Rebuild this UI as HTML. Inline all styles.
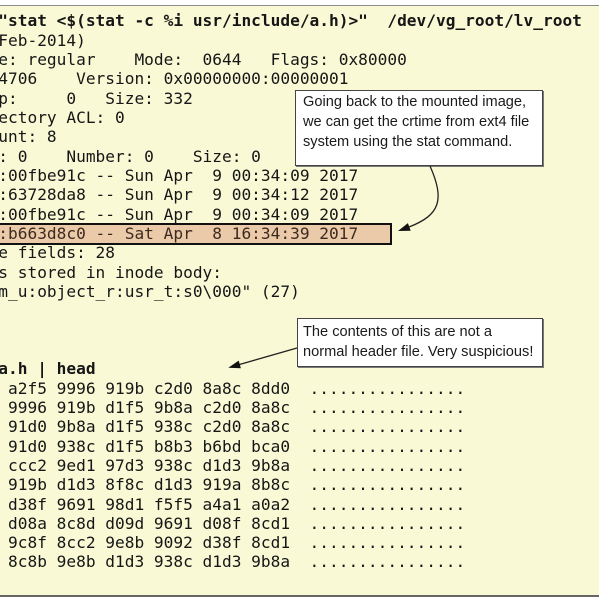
<!DOCTYPE html>
<html>
<head>
<meta charset="utf-8">
<style>
  html, body { margin:0; padding:0; }
  body { width:600px; height:600px; position:relative; overflow:hidden; background:#ffffff; }
  #panel { position:absolute; left:0; top:5px; width:599px; height:589px;
           background:#f9f9d6; border-top:1px solid #8c8c8c; border-bottom:2px solid #666666; }
  #hl { position:absolute; left:-5px; top:222.5px; width:396.7px; height:22px; box-sizing:border-box;
        border:2px solid #111111; background:#eacaa8; }
  pre { position:absolute; left:-1.73px; top:11.3px; margin:0; padding:0;
        font-family:"DejaVu Sans Mono","Liberation Mono",monospace; font-size:16.16px;
        line-height:19.33px; color:#161616; white-space:pre; }
  pre b { font-weight:bold; }
  .hlt { color:#3d2a1f; }
  .call { position:absolute; box-sizing:border-box; background:#ffffff; border:1px solid #444444;
          box-shadow:1px 1px 0 #7a7a7a; font-family:"Liberation Sans",Arial,sans-serif;
          font-size:14.6px; line-height:20px; color:#1a1a1a; white-space:nowrap; }
  svg { position:absolute; left:0; top:0; }
</style>
</head>
<body>
<div id="panel"></div>
<div id="hl"></div>
<pre><b>"stat &lt;$(stat -c %i usr/include/a.h)&gt;"  /dev/vg_root/lv_root</b>
Feb-2014)
e: regular    Mode:  0644   Flags: 0x80000
4706    Version: 0x00000000:00000001
p:     0   Size: 332
ectory ACL: 0
unt: 8
: 0    Number: 0    Size: 0
:00fbe91c -- Sun Apr  9 00:34:09 2017
:63728da8 -- Sun Apr  9 00:34:12 2017
:00fbe91c -- Sun Apr  9 00:34:09 2017
<span class="hlt">:b663d8c0 -- Sat Apr  8 16:34:39 2017</span>
e fields: 28
s stored in inode body:
m_u:object_r:usr_t:s0\000" (27)



<b>a.h | head</b>
 a2f5 9996 919b c2d0 8a8c 8dd0  ................
 9996 919b d1f5 9b8a c2d0 8a8c  ................
 91d0 9b8a d1f5 938c c2d0 8a8c  ................
 91d0 938c d1f5 b8b3 b6bd bca0  ................
 ccc2 9ed1 97d3 938c d1d3 9b8a  ................
 919b d1d3 8f8c d1d3 919a 8b8c  ................
 d38f 9691 98d1 f5f5 a4a1 a0a2  ................
 d08a 8c8d d09d 9691 d08f 8cd1  ................
 9c8f 8cc2 9e8b 9092 d38f 8cd1  ................
 8c8b 9e8b d1d3 938c d1d3 9b8a  ................</pre>

<div class="call" style="left:295px; top:90px; width:248px; height:76px; padding:1.4px 0 0 7px;">Going back to the mounted image,<br>we can get the crtime from ext4 file<br>system using the stat command.</div>

<div class="call" style="left:297px; top:318px; width:246px; height:49px; padding:3.4px 0 0 5px;">The contents of this are not a<br>normal header file. Very suspicious!</div>

<svg width="600" height="600" viewBox="0 0 600 600">
  <path d="M430,166 C445,200 440,215 409,227" fill="none" stroke="#222" stroke-width="1.3"/>
  <polygon points="398,231 410.7,230.7 407.9,223.1" fill="#111"/>
  <line x1="297" y1="348" x2="239.5" y2="364.5" stroke="#222" stroke-width="1.3"/>
  <polygon points="228.3,367.7 240.9,368.2 238.7,360.6" fill="#111"/>
</svg>
</body>
</html>
